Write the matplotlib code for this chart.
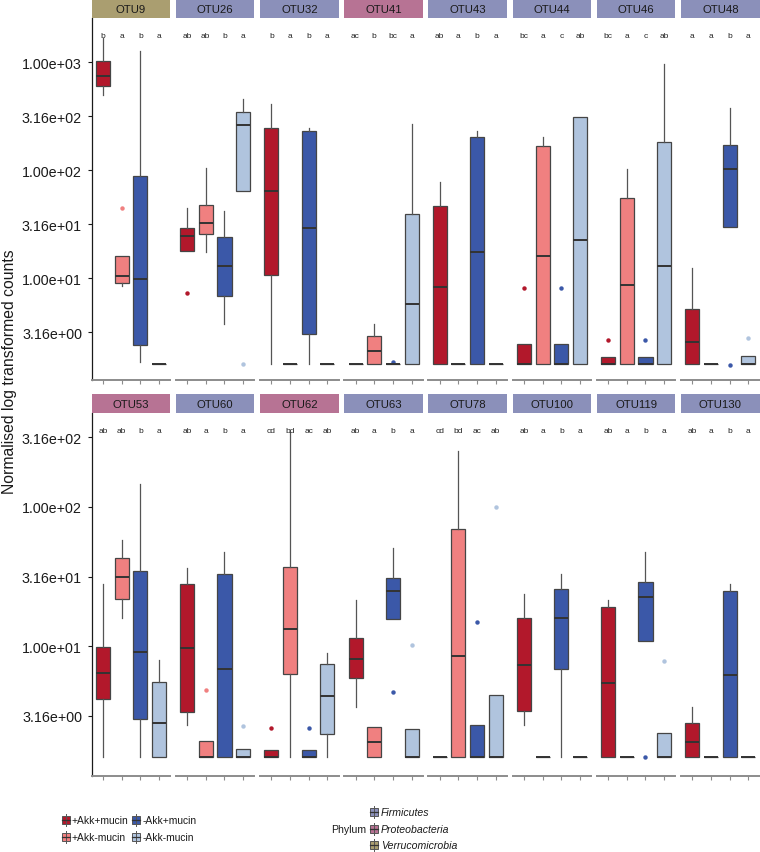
import matplotlib
matplotlib.use('Agg')
import matplotlib.pyplot as plt
import matplotlib.patches as mpatches
from matplotlib.ticker import FixedLocator, NullLocator
import matplotlib.transforms as mtransforms

plt.rcParams['font.family'] = ['Liberation Sans', 'DejaVu Sans']

W, H = 760, 853

GROUPS = ['+Akk+mucin', '+Akk-mucin', '-Akk+mucin', '-Akk-mucin']
GROUP_COLORS = ['#B2182B', '#F08080', '#3B58A8', '#B0C4DE']
PHYLA = ['Firmicutes', 'Proteobacteria', 'Verrucomicrobia']
PHYLUM_COLORS = ['#8B90BA', '#B77394', '#AA9E70']

B = 1.6  # zero counts baseline

# ---- top row ----
TOP_OTUS = ['OTU9', 'OTU26', 'OTU32', 'OTU41', 'OTU43', 'OTU44', 'OTU46', 'OTU48']
TOP_PHYLUM = [2, 0, 0, 1, 0, 0, 0, 0]
TOP_LETTERS = [['b', 'a', 'b', 'a'], ['ab', 'ab', 'b', 'a'], ['b', 'a', 'b', 'a'],
               ['ac', 'b', 'bc', 'a'], ['ab', 'a', 'b', 'a'], ['bc', 'a', 'c', 'ab'],
               ['bc', 'a', 'c', 'ab'], ['a', 'a', 'b', 'a']]
TOP_LOW = [[501, 8.4, 1.67, B], [17.9, 17.6, 3.8, 64], [B, B, B, B], [B, B, B, B],
           [B, B, B, B], [B, B, B, B], [B, B, B, B], [B, B, 30, B]]
TOP_Q1 = [[600, 9.0, 2.4, B], [17.9, 25.5, 6.9, 64], [10.6, B, 3.05, B], [B, B, B, B],
          [B, B, B, B], [B, B, B, B], [B, B, B, B], [B, B, 30, B]]
TOP_MED = [[747, 10.4, 9.9, B], [24.8, 32.5, 12.9, 261], [64, B, 29.2, B], [B, 2.1, B, 5.8],
           [8.2, B, 17.6, B], [B, 16, B, 22.6], [B, 8.7, B, 13], [2.54, B, 102, B]]
TOP_Q3 = [[1035, 16.2, 88, B], [29, 47.7, 24, 344], [248, B, 231, B], [B, 2.94, B, 39.4],
          [47, B, 202, B], [2.47, 167, 2.47, 310], [1.86, 55.7, 1.86, 181], [5.2, B, 171, 1.9]]
TOP_HIGH = [[1667, 16.2, 1264, B], [44.5, 105, 42, 457], [411, B, 245, B], [B, 3.78, B, 268],
            [77, B, 230, B], [2.47, 203, 2.47, 310], [1.86, 103, 1.86, 964], [12.4, B, 378, 1.9]]
# (panel, group, value)
TOP_OUTLIERS = [(0, 1, 45), (1, 0, 7.3), (1, 3, 1.62), (3, 2, 1.66), (5, 0, 8.07), (5, 2, 8.07),
                (6, 0, 2.68), (6, 2, 2.68), (7, 2, 1.56), (7, 3, 2.78)]

# ---- bottom row ----
BOT_OTUS = ['OTU53', 'OTU60', 'OTU62', 'OTU63', 'OTU78', 'OTU100', 'OTU119', 'OTU130']
BOT_PHYLUM = [1, 0, 1, 0, 0, 0, 0, 0]
BOT_LETTERS = [['ab', 'ab', 'b', 'a'], ['ab', 'a', 'b', 'a'], ['cd', 'bd', 'ac', 'ab'],
               ['ab', 'a', 'b', 'a'], ['cd', 'bd', 'ac', 'ab'], ['ab', 'a', 'b', 'a'],
               ['ab', 'a', 'b', 'a'], ['ab', 'a', 'b', 'a']]
BOT_LOW = [[1.6, 15.9, 1.6, B], [2.7, B, B, B], [B, B, B, B], [3.65, B, 15.7, B],
           [B, B, B, B], [2.69, B, B, B], [B, B, 10.9, B], [B, B, B, B]]
BOT_Q1 = [[4.16, 21.7, 3.0, B], [3.36, B, B, B], [B, 6.35, B, 2.33], [5.94, B, 15.7, B],
          [B, B, B, B], [3.44, B, 6.8, B], [B, B, 10.9, B], [B, B, B, B]]
BOT_MED = [[6.4, 31.4, 9.1, 2.8], [9.7, B, 6.8, B], [B, 13.3, B, 4.35], [8.1, 2.03, 24.7, B],
           [B, 8.5, B, B], [7.3, B, 16, B], [5.4, B, 22.4, B], [2.03, B, 6.15, B]]
BOT_Q3 = [[9.9, 42.8, 34.7, 5.5], [28, 2.09, 32.9, 1.82], [1.8, 36.9, 1.8, 7.46], [11.4, 2.6, 30.8, 2.54],
          [B, 69.5, 2.72, 4.47], [16, B, 25.6, B], [19, B, 29, 2.37], [2.81, B, 24.7, B]]
BOT_HIGH = [[27.7, 58, 145, 8.0], [36.5, 2.09, 47.5, 1.82], [1.8, 343, 1.8, 8.85], [21.5, 2.6, 50.7, 2.54],
            [B, 253, 2.72, 4.47], [23.6, B, 33, B], [21.5, B, 47.5, 2.37], [3.65, B, 27.7, B]]
BOT_OUTLIERS = [(1, 1, 4.8), (1, 3, 2.67), (2, 0, 2.59), (2, 2, 2.59), (3, 2, 4.7), (3, 3, 10.2),
                (4, 2, 14.8), (4, 3, 100), (6, 2, 1.6), (6, 3, 7.8)]

YTICKS = [3.16, 10, 31.6, 100, 316, 1000]
YTICKLABELS = ['3.16e+00', '1.00e+01', '3.16e+01', '1.00e+02', '3.16e+02', '1.00e+03']

fig = plt.figure(figsize=(W / 100, H / 100), dpi=100, facecolor='white')


def px_rect(x0, y0, w, h):
    return [x0 / W, 1 - (y0 + h) / H, w / W, h / H]


def draw_row(otus, phylum, letters, low, q1, med, q3, high, outliers, y_top, h, ylim):
    for k, otu in enumerate(otus):
        x0 = 91.7 + k * 84.2
        ax = fig.add_axes(px_rect(x0, y_top, 78.5, h))
        stats = []
        for g in range(4):
            fl = [v for (p, gg, v) in outliers if p == k and gg == g]
            stats.append(dict(whislo=low[k][g], q1=q1[k][g], med=med[k][g],
                              q3=q3[k][g], whishi=high[k][g], fliers=fl))
        res = ax.bxp(stats, positions=[1, 2, 3, 4], widths=0.75, patch_artist=True,
                     showcaps=False,
                     boxprops=dict(edgecolor='#454545', linewidth=0.9),
                     medianprops=dict(color='#333333', linewidth=1.4),
                     whiskerprops=dict(color='#555555', linewidth=0.9),
                     flierprops=dict(marker='o', markersize=3.2, markeredgewidth=0))
        for g, box in enumerate(res['boxes']):
            box.set_facecolor(GROUP_COLORS[g])
        for g, fl in enumerate(res['fliers']):
            fl.set_markerfacecolor(GROUP_COLORS[g])
        ax.set_yscale('log')
        ax.set_ylim(*ylim)
        ax.set_xlim(0.4, 4.6)
        ax.yaxis.set_minor_locator(NullLocator())
        ax.set_xticks([1, 2, 3, 4])
        ax.set_xticklabels([])
        ax.tick_params(axis='x', length=3, color='#8c8c8c', width=0.8)
        for s in ['top', 'right']:
            ax.spines[s].set_visible(False)
        ax.spines['bottom'].set_color('#8c8c8c')
        ax.spines['bottom'].set_linewidth(1.4)
        if k == 0:
            ax.yaxis.set_major_locator(FixedLocator(YTICKS))
            ax.set_yticklabels(YTICKLABELS)
            ax.tick_params(axis='y', length=3, width=0.8, pad=4, labelsize=10.3, colors='#1a1a1a')
            ax.spines['left'].set_color('#1a1a1a')
            ax.spines['left'].set_linewidth(0.9)
        else:
            ax.spines['left'].set_visible(False)
            ax.set_yticks([])
            ax.yaxis.set_minor_locator(NullLocator())
        trans = mtransforms.blended_transform_factory(ax.transData, ax.transAxes)
        for g in range(4):
            ax.text(g + 1, 0.952, letters[k][g], transform=trans, ha='center', va='center',
                    fontsize=6, color='#222222')
        # strip
        sax = fig.add_axes(px_rect(x0, y_top - 19, 78.5, 19))
        sax.set_xlim(0, 1)
        sax.set_ylim(0, 1)
        sax.set_facecolor(PHYLUM_COLORS[phylum[k]])
        sax.set_xticks([])
        sax.set_yticks([])
        for s in sax.spines.values():
            s.set_visible(False)
        sax.text(0.5, 0.47, otu, ha='center', va='center', fontsize=8.2, color='#1a1a1a')


draw_row(TOP_OTUS, TOP_PHYLUM, TOP_LETTERS, TOP_LOW, TOP_Q1, TOP_MED, TOP_Q3, TOP_HIGH,
         TOP_OUTLIERS, 19, 362, (1.14, 2570))
draw_row(BOT_OTUS, BOT_PHYLUM, BOT_LETTERS, BOT_LOW, BOT_Q1, BOT_MED, BOT_Q3, BOT_HIGH,
         BOT_OUTLIERS, 414, 363, (1.165, 473))

fig.text(10 / W, 1 - 372 / H, 'Normalised log transformed counts', rotation=90,
         ha='center', va='center', fontsize=11.3, color='#1a1a1a')

# legends drawn in an overlay in pixel coordinates
lax = fig.add_axes([0, 0, 1, 1], zorder=-1)
lax.set_xlim(0, W)
lax.set_ylim(H, 0)
lax.axis('off')


def legend_key(cx, cy, color):
    lax.plot([cx, cx], [cy - 6, cy + 6], color='#555555', lw=0.7)
    lax.add_patch(mpatches.Rectangle((cx - 4, cy - 4), 8, 8, facecolor=color,
                                     edgecolor='#555555', lw=0.7))
    lax.plot([cx - 4, cx + 4], [cy, cy], color='#333333', lw=0.9)


key_pos = [(65.5, 821), (65.5, 838), (136.3, 821), (136.3, 838)]
for g, (kx, ky) in enumerate(key_pos):
    legend_key(kx, ky, GROUP_COLORS[g])
    lax.text(kx + 6.5, ky, GROUPS[g], ha='left', va='center', fontsize=7.4, color='#1a1a1a')

lax.text(366, 830, 'Phylum', ha='right', va='center', fontsize=7.6, color='#1a1a1a')
for i, (name, col) in enumerate(zip(PHYLA, PHYLUM_COLORS)):
    py = 813 + i * 16.7
    legend_key(374, py, col)
    lax.text(381, py, name, ha='left', va='center', fontsize=7.6, style='italic', color='#1a1a1a')

fig.savefig('out.png', dpi=100, facecolor='white')
